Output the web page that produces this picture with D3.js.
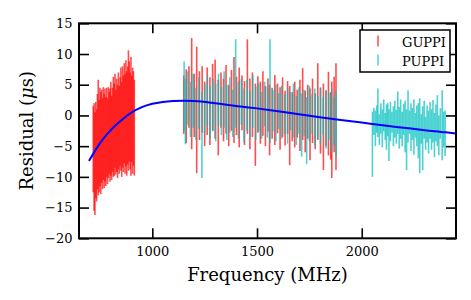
<!DOCTYPE html>
<html>
<head>
<meta charset="utf-8">
<script src="https://cdn.jsdelivr.net/npm/d3@7"></script>
<style>
  body { margin: 0; background: #fff; }
  svg { display: block; }
</style>
</head>
<body>
<svg id="chart"></svg>
<script>
/* globals d3 */

const width = 471;
const height = 300;

// GUPPI, low band (MHz, residual us, error us)
const guppiLowFreq = [718, 722, 726, 730, 734, 738, 742, 746, 750, 754, 758, 762, 766, 770, 774, 778,
  782, 786, 790, 794, 798, 802, 806, 810, 814, 818, 822, 826, 830, 834, 838, 842, 846, 850, 854, 858,
  862, 866, 870, 874, 878, 882, 886, 890, 894, 898, 902, 906, 910, 914];
const guppiLowRes = [-5.5, -6.75, -7.85, -5.65, -6.5, -4.25, -3.6, -5.0, -3.5, -4.5, -3.4, -4.6, -2.95,
  -4.15, -3.2, -4.25, -2.75, -4.2, -2.8, -2.85, -3.2, -2.15, -3.65, -2.35, -1.85, -2.3, -0.85, -2.7,
  -1.6, -2.6, -0.9, -2.35, -1.0, -0.6, -2.25, -0.25, -1.35, 0.35, -1.35, 0.35, -1.3, 0.0, 0.8, 0.65,
  -0.9, -0.15, -0.55, -0.85, -0.5, -2.0];
const guppiLowErr = [7.0, 8.75, 8.35, 7.85, 7.5, 7.75, 9.4, 7.5, 8.0, 8.3, 7.6, 7.4, 7.55, 7.65, 7.6,
  7.25, 7.25, 7.0, 7.4, 6.65, 7.6, 7.65, 6.85, 6.85, 8.15, 7.5, 7.65, 6.9, 7.6, 7.6, 7.9, 7.15, 7.2,
  8.4, 7.75, 8.25, 7.85, 8.15, 8.15, 8.65, 8.5, 8.0, 9.8, 8.15, 7.9, 9.65, 7.05, 8.65, 7.7, 7.8];

// GUPPI, mid band
const guppiMidFreq = [1150, 1162, 1175, 1188, 1200, 1212, 1225, 1238, 1250, 1262, 1275, 1288, 1300,
  1315, 1328, 1340, 1352, 1365, 1378, 1390, 1402, 1415, 1428, 1440, 1454, 1466, 1478, 1492, 1504,
  1516, 1528, 1540, 1552, 1560, 1572, 1585, 1598, 1610, 1622, 1634, 1646, 1656, 1668, 1680, 1692,
  1705, 1718, 1730, 1742, 1753, 1765, 1778, 1790, 1803, 1817, 1829, 1841, 1852, 1857, 1868, 1877];
const guppiMidRes = [1.75, 1.5, 3.0, 3.55, 1.65, 0.9, 1.6, 2.6, 0.25, 2.3, 0.7, 2.95, 2.65, -0.35,
  2.5, 0.9, 2.6, 0.0, 2.45, 2.5, 1.55, 1.3, 2.05, 0.4, 4.7, 0.25, 1.75, -1.5, 1.8, 0.45, 1.95, -0.1,
  1.7, -0.75, 0.35, 0.9, 1.15, -0.5, 1.35, -0.45, 1.3, -1.65, -0.2, 0.15, 0.3, 0.0, 1.85, -1.0, 0.6,
  -1.45, 0.75, -0.95, 2.25, -0.85, -1.85, -0.5, 0.3, -1.7, -2.35, 0.15, -0.2];
const guppiMidErr = [4.75, 6.0, 5.0, 9.05, 5.15, 10.3, 5.6, 5.4, 5.25, 5.5, 5.5, 5.45, 6.45, 6.15,
  4.5, 5.1, 5.6, 5.0, 4.95, 7.0, 4.75, 6.5, 4.45, 5.2, 7.7, 5.75, 5.25, 6.7, 4.6, 5.05, 5.25, 4.9,
  4.3, 5.75, 4.15, 5.7, 4.05, 5.1, 4.85, 4.45, 4.3, 6.45, 4.0, 5.35, 3.9, 5.8, 5.85, 5.0, 4.4, 5.85,
  5.25, 4.55, 6.25, 5.35, 7.05, 4.5, 6.8, 5.5, 7.85, 6.15, 8.7];

// PUPPI, mid band
const puppiMidFreq = [1152, 1158, 1170, 1182, 1195, 1208, 1222, 1237, 1250, 1263, 1276, 1290, 1303,
  1316, 1330, 1343, 1356, 1370, 1384, 1398, 1411, 1425, 1438, 1452, 1466, 1480, 1494, 1508, 1522,
  1536, 1550, 1562, 1576, 1590, 1604, 1618, 1632, 1646, 1660, 1674, 1688, 1700, 1713, 1725, 1737,
  1750, 1763, 1776, 1790, 1803, 1816, 1830, 1843, 1856, 1868, 1878];
const puppiMidRes = [3.15, 0.65, 2.85, 1.0, 2.4, 0.25, 2.0, -3.2, 1.0, 2.35, 0.5, 1.75, 0.5, 2.6,
  0.7, 2.6, 0.5, 1.7, 0.35, 5.2, 0.85, 2.25, 0.0, 1.65, 0.2, 2.25, 0.4, 1.3, 0.0, 1.85, 0.5, 3.95,
  0.8, 0.4, 0.7, 0.5, 0.2, -0.1, 0.7, 0.8, -0.8, 0.8, -1.55, 0.4, -2.45, 0.3, 0.25, -0.3, -0.3, 0.0,
  -0.1, -0.6, -0.2, -0.8, -0.9, -1.4];
const puppiMidErr = [5.65, 5.35, 4.35, 4.5, 4.4, 4.25, 4.2, 7.0, 4.0, 4.15, 4.3, 4.25, 4.7, 4.2,
  3.9, 4.6, 4.5, 4.5, 3.85, 7.2, 4.65, 3.75, 4.4, 4.15, 3.8, 4.25, 4.4, 3.9, 3.8, 3.65, 4.1, 8.45,
  3.4, 4.6, 2.9, 4.3, 3.2, 4.5, 3.1, 4.4, 4.0, 3.8, 5.15, 3.8, 5.45, 4.5, 3.25, 4.7, 3.5, 4.6, 3.1,
  4.8, 3.8, 5.2, 3.9, 5.4];

// PUPPI, high band
const puppiHighFreq = [2051, 2058, 2065, 2072, 2077, 2084, 2091, 2098, 2105, 2112, 2118, 2124, 2130,
  2137, 2144, 2151, 2158, 2165, 2172, 2179, 2186, 2193, 2200, 2207, 2214, 2221, 2228, 2235, 2242,
  2249, 2256, 2263, 2270, 2277, 2284, 2291, 2298, 2305, 2312, 2319, 2326, 2333, 2340, 2347, 2354,
  2361, 2368, 2375, 2384, 2391, 2398];
const puppiHighRes = [-4.7, -1.0, -2.1, -0.6, 0.45, -2.3, -0.5, -2.1, 0.0, -1.8, -1.9, -0.7, -3.2,
  -1.0, -1.1, -1.75, -0.6, -1.85, 0.45, -2.0, -0.6, -2.2, -0.65, -1.8, -3.95, -0.15, -1.1, -1.9,
  -1.4, -1.9, -1.6, -1.7, -2.5, -3.3, -2.2, -3.7, -0.7, -2.9, -1.4, -2.7, -0.8, -2.3, -0.95, -3.2,
  -1.2, -0.85, -3.25, -1.3, -1.6, -2.3, -2.9];
const puppiHighErr = [5.3, 2.2, 2.9, 2.2, 3.95, 2.5, 2.5, 3.1, 2.6, 2.2, 3.7, 2.7, 4.2, 3.2, 1.7,
  3.25, 3.0, 2.75, 3.45, 3.4, 3.2, 2.8, 2.55, 4.2, 4.95, 4.25, 1.9, 3.9, 2.6, 4.5, 2.0, 3.3, 4.5,
  6.1, 2.4, 5.2, 3.1, 2.7, 3.0, 3.5, 3.0, 3.3, 3.45, 3.6, 3.0, 4.15, 3.25, 2.5, 5.7, 2.9, 3.7];

// fitted curve
const fitFreq = [698, 725, 750, 775, 800, 825, 850, 900, 950, 1000, 1050, 1100, 1150, 1200, 1300,
  1400, 1500, 1600, 1700, 1800, 1900, 2000, 2100, 2200, 2300, 2400, 2450];
const fitRes = [-7.4, -5.85, -4.55, -3.4, -2.45, -1.6, -0.85, 0.45, 1.35, 1.9, 2.2, 2.35, 2.4, 2.35,
  2.0, 1.55, 1.15, 0.7, 0.2, -0.3, -0.75, -1.15, -1.6, -2.0, -2.4, -2.75, -2.95];

const xTicks = [1000, 1500, 2000];
const yTicks = [-20, -15, -10, -5, 0, 5, 10, 15];

const marginTop = 23.3, marginRight = 15, marginBottom = 61.7, marginLeft = 79;
const font = "DejaVu Serif, serif";
const red = "#ff0000", cyan = "#00bfbf", blue = "#0000ff";

const x = d3.scaleLinear([650, 2450], [marginLeft, width - marginRight]);
const y = d3.scaleLinear([-20, 15], [height - marginBottom, marginTop]);

const svg = d3.select("#chart")
    .attr("width", width)
    .attr("height", height)
    .attr("viewBox", [0, 0, width, height]);

const zip = (f, r, e) => f.map((d, i) => ({f: d, r: r[i], e: e[i]}));

function errorBars(data, color) {
  svg.append("g")
      .attr("stroke", color)
      .attr("stroke-width", 1.6)
      .attr("stroke-opacity", 0.7)
    .selectAll("line")
    .data(data)
    .join("line")
      .attr("x1", d => x(d.f))
      .attr("x2", d => x(d.f))
      .attr("y1", d => y(d.r - d.e))
      .attr("y2", d => y(d.r + d.e));
}

errorBars(zip(guppiLowFreq, guppiLowRes, guppiLowErr), red);
errorBars(zip(guppiMidFreq, guppiMidRes, guppiMidErr), red);
errorBars(zip(puppiMidFreq, puppiMidRes, puppiMidErr), cyan);
errorBars(zip(puppiHighFreq, puppiHighRes, puppiHighErr), cyan);

const line = d3.line()
    .curve(d3.curveMonotoneX)
    .x((d, i) => x(fitFreq[i]))
    .y(d => y(d));

svg.append("path")
    .attr("fill", "none")
    .attr("stroke", blue)
    .attr("stroke-width", 2)
    .attr("d", line(fitRes));

// axes, ticks pointing inward on all four sides
const tickStyle = g => {
  g.select(".domain").remove();
  g.selectAll(".tick line").attr("stroke", "#000").attr("stroke-width", 1.6);
  g.selectAll("text").attr("font-family", font).attr("font-size", 13).attr("fill", "#000");
};

svg.append("g")
    .attr("transform", `translate(0,${height - marginBottom})`)
    .call(d3.axisBottom(x).tickValues(xTicks).tickSize(-10).tickPadding(8.5).tickFormat(d3.format("d")))
    .call(tickStyle);

svg.append("g")
    .attr("transform", `translate(0,${marginTop})`)
    .call(d3.axisTop(x).tickValues(xTicks).tickSize(-10).tickFormat(""))
    .call(tickStyle);

svg.append("g")
    .attr("transform", `translate(${marginLeft},0)`)
    .call(d3.axisLeft(y).tickValues(yTicks).tickSize(-10).tickPadding(6.5))
    .call(tickStyle);

svg.append("g")
    .attr("transform", `translate(${width - marginRight},0)`)
    .call(d3.axisRight(y).tickValues(yTicks).tickSize(-10).tickFormat(""))
    .call(tickStyle);

svg.append("rect")
    .attr("x", marginLeft)
    .attr("y", marginTop)
    .attr("width", width - marginLeft - marginRight)
    .attr("height", height - marginTop - marginBottom)
    .attr("fill", "none")
    .attr("stroke", "#000")
    .attr("stroke-width", 2);

// axis labels
svg.append("text")
    .attr("x", (marginLeft + width - marginRight) / 2)
    .attr("y", 281)
    .attr("text-anchor", "middle")
    .attr("font-family", font)
    .attr("font-size", 18)
    .text("Frequency (MHz)");

const yl = svg.append("text")
    .attr("transform", `translate(33,${(marginTop + height - marginBottom) / 2}) rotate(-90)`)
    .attr("text-anchor", "middle")
    .attr("font-family", font)
    .attr("font-size", 18);
yl.append("tspan").text("Residual (");
yl.append("tspan").attr("font-style", "italic").text("μ");
yl.append("tspan").text("s)");

// legend
const legend = svg.append("g").attr("font-family", font).attr("font-size", 13);
legend.append("rect")
    .attr("x", 360).attr("y", 30).attr("width", 90).attr("height", 42)
    .attr("fill", "#fff").attr("stroke", "#000").attr("stroke-width", 1.5);

const legendItems = [["GUPPI", red], ["PUPPI", cyan]];
legendItems.forEach(([name, color], i) => {
  const cy = 41 + i * 19;
  legend.append("line")
      .attr("x1", 378).attr("x2", 378)
      .attr("y1", cy - 5.5).attr("y2", cy + 5.5)
      .attr("stroke", color).attr("stroke-width", 1.5).attr("stroke-opacity", 0.7);
  legend.append("text")
      .attr("x", 402).attr("y", cy + 5.5)
      .text(name);
});
</script>
</body>
</html>
